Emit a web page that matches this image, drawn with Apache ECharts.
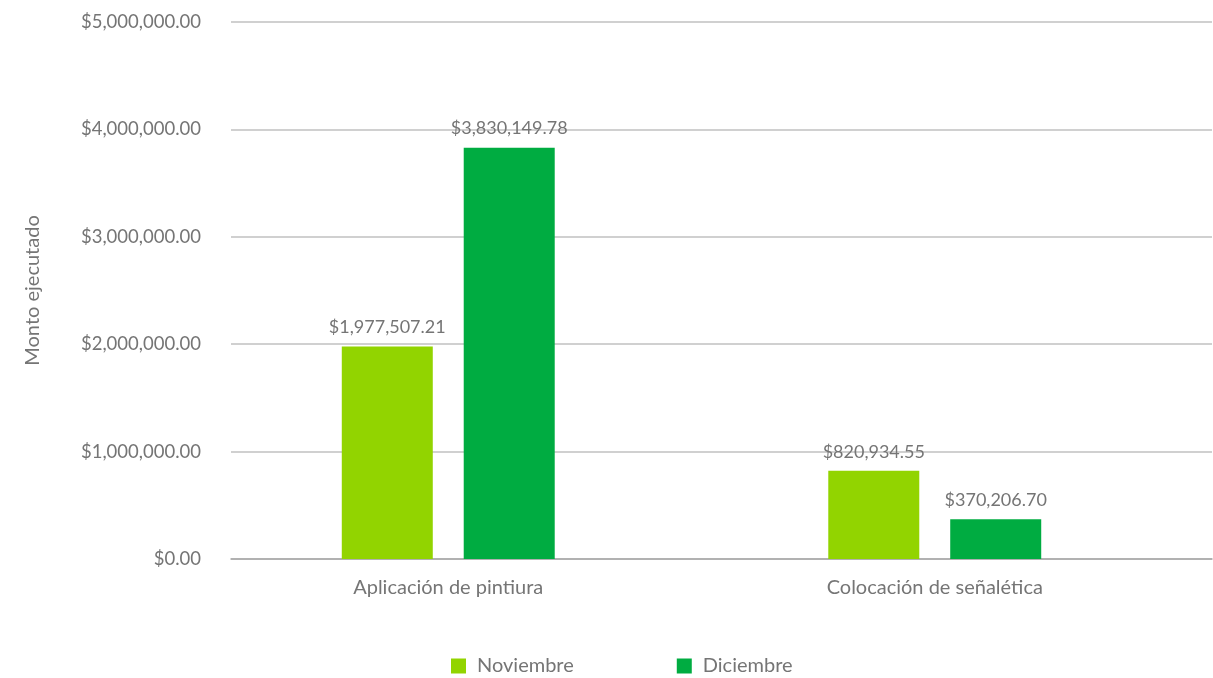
<!DOCTYPE html>
<html>
<head>
<meta charset="utf-8">
<script src="https://cdn.jsdelivr.net/npm/echarts@6/dist/echarts.min.js"></script>
<style>
html,body{margin:0;padding:0;background:#fff;}
#chart{width:1213px;height:678px;}
</style>
</head>
<body>
<div id="chart"></div>
<script>
const categories = ['Aplicación de pintiura', 'Colocación de señalética'];
const seriesNames = ['Noviembre', 'Diciembre'];
const noviembre = [1977507.21, 820934.55];
const diciembre = [3830149.78, 370206.70];
const yMin = 0, yMax = 5000000, yInterval = 1000000;
const axisTitle = 'Monto ejecutado';

const FONT = 'Lato, "Source Sans Pro", "Open Sans", sans-serif';
const TXT = '#757575';
const fmt = v => '$' + Number(v).toLocaleString('en-US', {minimumFractionDigits: 2, maximumFractionDigits: 2});

const chart = echarts.init(document.getElementById('chart'));
const labelCfg = {
  show: true, position: 'top', distance: 10,
  color: TXT, fontFamily: FONT, fontSize: 18,
  formatter: p => fmt(p.value)
};
chart.setOption({
  animation: false,
  textStyle: {fontFamily: FONT},
  grid: [
    {left: 205, right: 35, top: 22, bottom: 119, containLabel: false},
    {left: 231, right: 1, top: 22, bottom: 119, containLabel: false}
  ],
  legend: {
    data: seriesNames, top: 651, left: 446,
    itemWidth: 15, itemHeight: 15, itemGap: 103, icon: 'rect',
    textStyle: {color: TXT, fontSize: 20, fontFamily: FONT, padding: [0, 0, 0, 6]}
  },
  xAxis: [
    {type: 'category', gridIndex: 0, data: categories,
     axisLine: {show: false}, axisTick: {show: false},
     axisLabel: {color: TXT, fontSize: 20, fontFamily: FONT, margin: 19}},
    {type: 'category', gridIndex: 1, data: categories,
     axisLine: {show: true, lineStyle: {color: '#a6a6a6', width: 1.5}},
     axisTick: {show: false}, axisLabel: {show: false}}
  ],
  yAxis: [
    {type: 'value', gridIndex: 0, min: yMin, max: yMax, interval: yInterval,
     show: false, splitLine: {show: false}},
    {type: 'value', gridIndex: 1, min: yMin, max: yMax, interval: yInterval,
     axisLine: {show: false}, axisTick: {show: false},
     axisLabel: {color: TXT, fontSize: 18.5, fontFamily: FONT, margin: 30, formatter: v => fmt(v)},
     splitLine: {lineStyle: {color: '#c0c0c0', width: 1.5}},
     name: axisTitle, nameLocation: 'middle', nameGap: 188, nameRotate: 90,
     nameTextStyle: {color: TXT, fontSize: 20, fontFamily: FONT}}
  ],
  series: [
    {name: seriesNames[0], type: 'bar', xAxisIndex: 0, yAxisIndex: 0, data: noviembre,
     barWidth: 91, barGap: '34%', itemStyle: {color: '#92d400'}, label: labelCfg},
    {name: seriesNames[1], type: 'bar', xAxisIndex: 0, yAxisIndex: 0, data: diciembre,
     barWidth: 91, barGap: '34%', itemStyle: {color: '#00ac41'}, label: labelCfg}
  ]
});
</script>
</body>
</html>
